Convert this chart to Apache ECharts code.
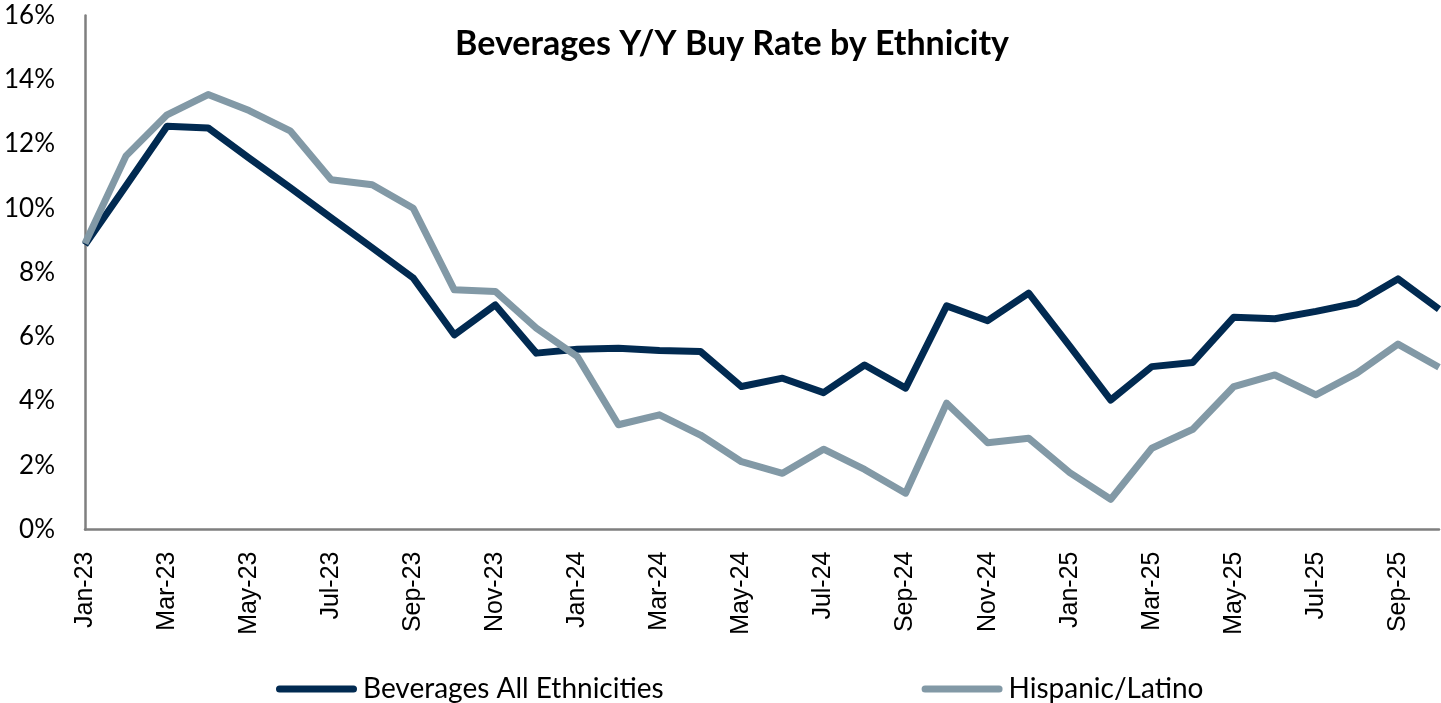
<!DOCTYPE html>
<html>
<head>
<meta charset="utf-8">
<title>Beverages Y/Y Buy Rate by Ethnicity</title>
<script src="https://cdn.jsdelivr.net/npm/echarts@6/dist/echarts.min.js"></script>
<style>
  html, body { margin: 0; padding: 0; background: #ffffff; }
  #chart { width: 1441px; height: 703px; }
</style>
</head>
<body>
<div id="chart"></div>
<script>
// Monthly periods, Jan-23 through Oct-25
const months = [
  'Jan-23', 'Feb-23', 'Mar-23', 'Apr-23', 'May-23', 'Jun-23', 'Jul-23', 'Aug-23', 'Sep-23', 'Oct-23', 'Nov-23', 'Dec-23',
  'Jan-24', 'Feb-24', 'Mar-24', 'Apr-24', 'May-24', 'Jun-24', 'Jul-24', 'Aug-24', 'Sep-24', 'Oct-24', 'Nov-24', 'Dec-24',
  'Jan-25', 'Feb-25', 'Mar-25', 'Apr-25', 'May-25', 'Jun-25', 'Jul-25', 'Aug-25', 'Sep-25', 'Oct-25'
];

// Year-over-year buy rate change, in percent
const allEthnicities = [
  8.86, 10.7, 12.55, 12.5, 11.56, 10.64, 9.70, 8.77, 7.83, 6.06, 6.99, 5.49,
  5.61, 5.64, 5.57, 5.54, 4.45, 4.71, 4.26, 5.12, 4.40, 6.96, 6.50, 7.36,
  5.71, 4.03, 5.07, 5.20, 6.61, 6.56, 6.79, 7.05, 7.80, 6.86
];
const hispanicLatino = [
  8.9, 11.63, 12.91, 13.54, 13.04, 12.41, 10.89, 10.73, 10.0, 7.46, 7.41, 6.27,
  5.38, 3.26, 3.57, 2.94, 2.11, 1.75, 2.50, 1.87, 1.13, 3.93, 2.70, 2.84,
  1.77, 0.94, 2.53, 3.12, 4.45, 4.81, 4.19, 4.87, 5.77, 5.05
];

const seriesNames = ['Beverages All Ethnicities', 'Hispanic/Latino'];
const titleText = 'Beverages Y/Y Buy Rate by Ethnicity';

const NAVY = '#012a51';
const SLATE = '#8299a6';
const AXIS = '#7f7f7f';

// Legend swatch: a thick bar with round ends
const swatch = 'path://M3.5,0 H77.5 A3.5,3.5 0 0 1 77.5,7 H3.5 A3.5,3.5 0 0 1 3.5,0 Z';

const chart = echarts.init(document.getElementById('chart'), null, { renderer: 'canvas' });

chart.setOption({
  animation: false,
  backgroundColor: '#ffffff',
  title: {
    text: titleText,
    left: 727,
    top: 22,
    textAlign: 'center',
    textStyle: {
      fontFamily: 'Lato',
      fontWeight: 'bold',
      fontSize: 34,
      color: '#000000'
    }
  },
  grid: {
    left: 85,
    right: 2,
    top: 15.5,
    bottom: 173.5,
    containLabel: false
  },
  legend: {
    left: 271,
    top: 670,
    itemWidth: 81,
    itemHeight: 7,
    itemGap: 258,
    icon: swatch,
    textStyle: {
      fontFamily: 'Lato',
      fontSize: 28,
      color: '#000000',
      padding: [0, 0, 0, 1]
    },
    data: seriesNames
  },
  xAxis: {
    type: 'category',
    data: months,
    boundaryGap: false,
    axisLine: { show: true, lineStyle: { color: AXIS, width: 2.5 } },
    axisTick: { show: false },
    splitLine: { show: false },
    axisLabel: {
      interval: 1,
      rotate: 90,
      margin: 22,
      fontFamily: 'Liberation Sans',
      fontSize: 25,
      color: '#000000'
    }
  },
  yAxis: {
    type: 'value',
    min: 0,
    max: 16,
    interval: 2,
    axisLine: { show: true, lineStyle: { color: AXIS, width: 2.5 } },
    axisTick: { show: false },
    splitLine: { show: false },
    axisLabel: {
      formatter: '{value}%',
      margin: 30,
      fontFamily: 'Lato',
      fontSize: 26,
      color: '#000000'
    }
  },
  series: [
    {
      name: seriesNames[0],
      type: 'line',
      data: allEthnicities,
      showSymbol: false,
      symbol: 'none',
      color: NAVY,
      lineStyle: { color: NAVY, width: 7, join: 'round' }
    },
    {
      name: seriesNames[1],
      type: 'line',
      data: hispanicLatino,
      showSymbol: false,
      symbol: 'none',
      color: SLATE,
      lineStyle: { color: SLATE, width: 7, join: 'round' }
    }
  ]
});
</script>
</body>
</html>
